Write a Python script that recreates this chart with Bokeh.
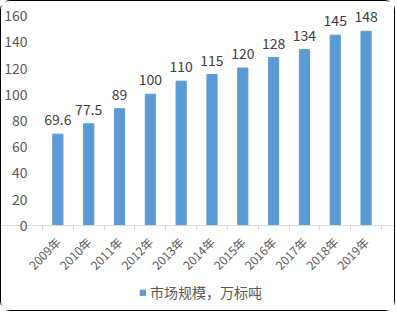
import math
from bokeh.plotting import figure
from bokeh.models import ColumnDataSource, FixedTicker, Legend, LegendItem, LabelSet
from bokeh.core.properties import value
from bokeh.embed import file_html
from bokeh.resources import INLINE

years = ["2009年", "2010年", "2011年", "2012年", "2013年", "2014年",
         "2015年", "2016年", "2017年", "2018年", "2019年"]
values = [69.6, 77.5, 89, 100, 110, 115, 120, 128, 134, 145, 148]
value_labels = ["69.6", "77.5", "89", "100", "110", "115", "120", "128", "134", "145", "148"]
y_ticks = [0, 20, 40, 60, 80, 100, 120, 140, 160]
series_name = "市场规模，万标吨"

xs = list(range(len(years)))
src = ColumnDataSource(dict(x=xs, top=values, lab=value_labels))

FONT = "Noto Sans CJK SC"
GRAY = "#595959"

# The frame fills the whole canvas; both axes are pinned (x at y=0, y at the first category edge),
# so the space around the bars holds tick labels, value labels and the legend without clipping.
p = figure(width=395, height=311, output_backend="svg", toolbar_location=None,
           x_range=(-1.83, 10.987), y_range=(-66.29, 170.67),
           min_border_left=0, min_border_right=0, min_border_top=0, min_border_bottom=0)
p.styles = {"border": "1px solid black", "border-radius": "10px"}
p.outline_line_color = None
p.background_fill_color = "white"
p.border_fill_color = "white"
p.xgrid.visible = False
p.ygrid.visible = False

r = p.vbar(x="x", top="top", width=0.33, color="#5B9BD5", source=src)

labels = LabelSet(x="x", y="top", text="lab", source=src, text_align="center",
                  text_baseline="alphabetic", y_offset=9, text_font=value(FONT),
                  text_font_size=value("14px"), text_color=value("#404040"))
p.add_layout(labels)

p.yaxis.fixed_location = -0.5
p.yaxis.ticker = FixedTicker(ticks=y_ticks)
p.yaxis.axis_line_color = None
p.yaxis.major_tick_line_color = None
p.yaxis.minor_tick_line_color = None
p.yaxis.major_label_text_font = FONT
p.yaxis.major_label_text_font_size = "14px"
p.yaxis.major_label_text_color = GRAY
p.yaxis.major_label_standoff = 9

p.xaxis.fixed_location = 0
p.xaxis.ticker = FixedTicker(ticks=xs, minor_ticks=[i - 0.5 for i in range(len(years) + 1)])
p.xaxis.major_label_overrides = {i: y for i, y in enumerate(years)}
p.xaxis.axis_line_color = "#D9D9D9"
p.xaxis.major_tick_line_color = None
p.xaxis.minor_tick_line_color = "#D9D9D9"
p.xaxis.minor_tick_in = 0
p.xaxis.minor_tick_out = 5
p.xaxis.major_label_orientation = math.pi / 4
p.xaxis.major_label_text_font = FONT
p.xaxis.major_label_text_font_size = "12px"
p.xaxis.major_label_text_color = GRAY
p.xaxis.major_label_standoff = 8

legend = Legend(items=[LegendItem(label=series_name, renderers=[r])],
                orientation="horizontal", location=(138, 10),
                label_text_font=FONT, label_text_font_size="14px",
                label_text_color=GRAY, glyph_width=7, glyph_height=7,
                border_line_color=None, background_fill_alpha=0,
                padding=0, margin=0, label_standoff=4)
p.add_layout(legend)

open("out.html", "w").write(file_html(p, INLINE))
